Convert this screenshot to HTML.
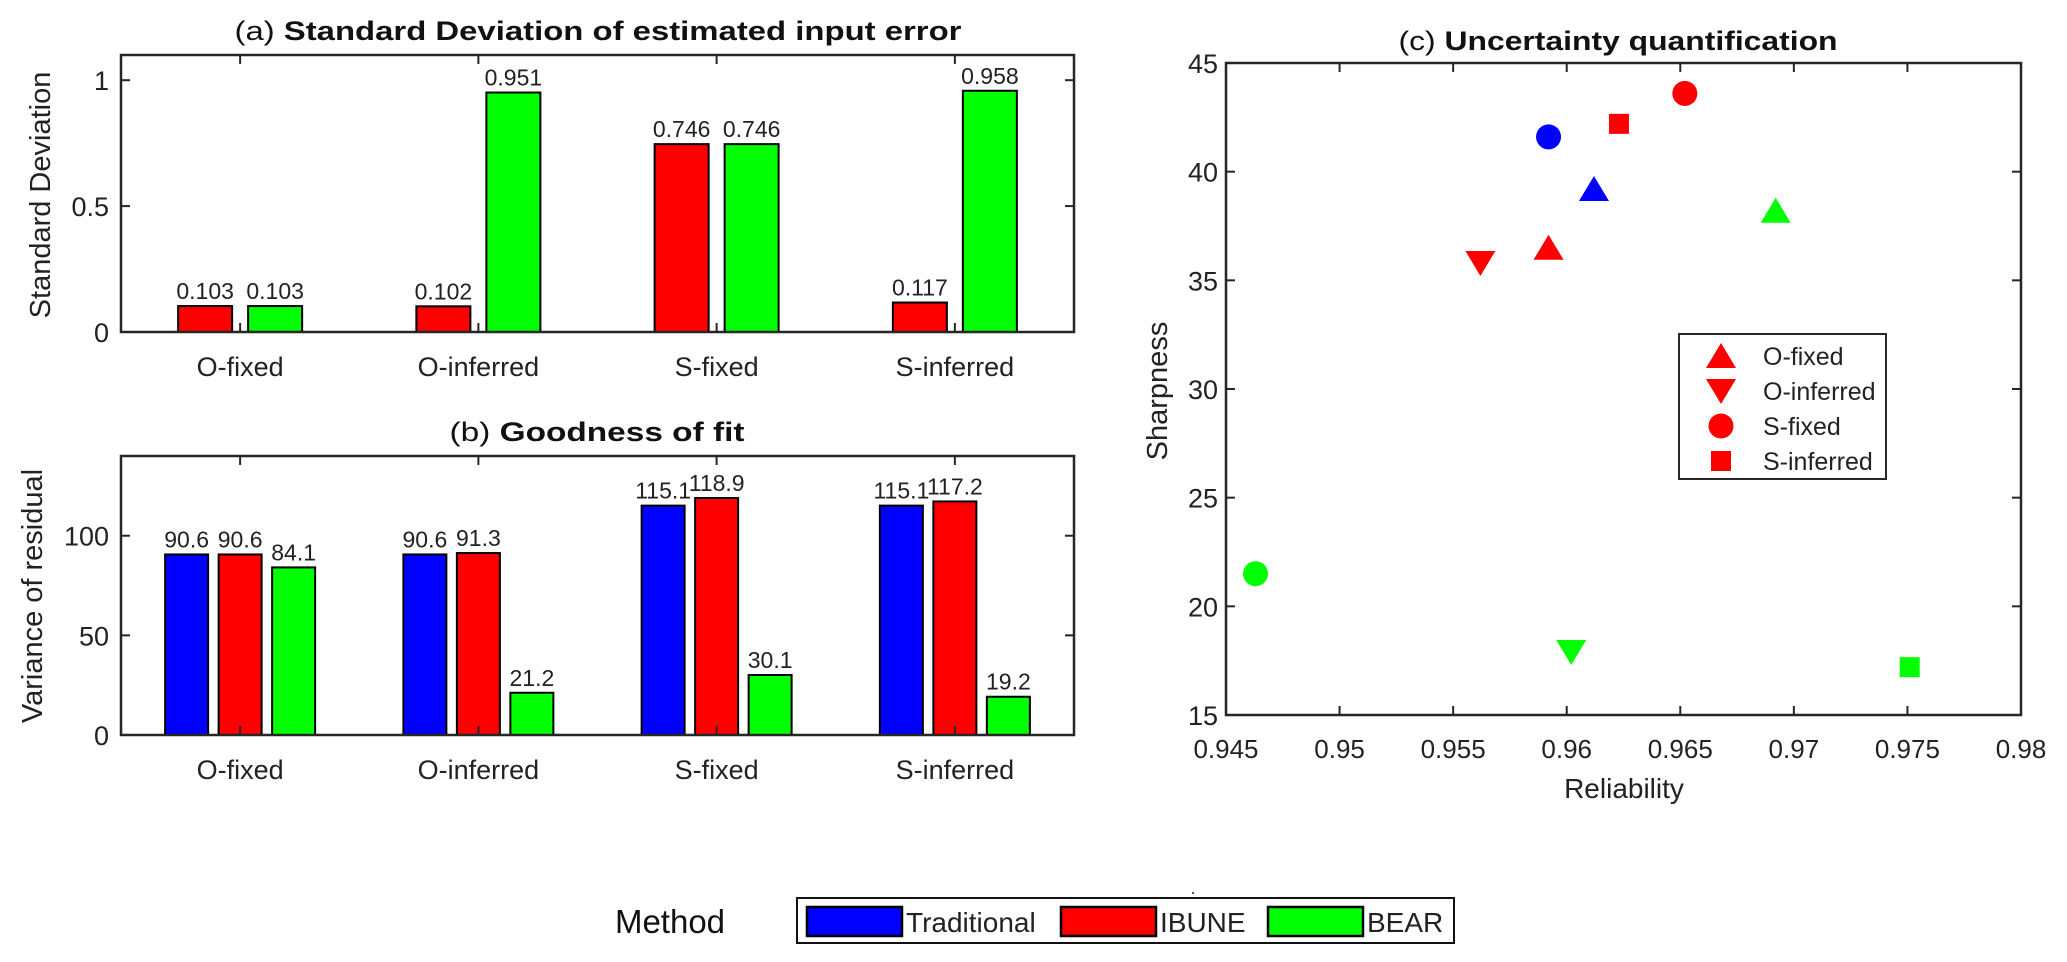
<!DOCTYPE html>
<html><head><meta charset="utf-8"><style>
html,body{margin:0;padding:0;background:#fff;}
svg{display:block;font-family:"Liberation Sans",Arial,sans-serif;}
</style></head><body>
<svg id="fig" width="2067" height="962" viewBox="0 0 2067 962"></svg>
<script>
const categories = ["O-fixed","O-inferred","S-fixed","S-inferred"];
const sdRed = [0.103,0.102,0.746,0.117];
const sdGreen = [0.103,0.951,0.746,0.958];
const sdTicks = [0,0.5,1];
const sdTickLabels = ["0","0.5","1"];
const fitBlue = [90.6,90.6,115.1,115.1];
const fitRed = [90.6,91.3,118.9,117.2];
const fitGreen = [84.1,21.2,30.1,19.2];
const fitTicks = [0,50,100];
const relTicks = [0.945,0.95,0.955,0.96,0.965,0.97,0.975,0.98];
const relTickLabels = ["0.945","0.95","0.955","0.96","0.965","0.97","0.975","0.98"];
const sharpTicks = [15,20,25,30,35,40,45];
const ptMethod = ["blue","red","red","red","red","green","green","green","green","blue"];
const ptShape = ["circle","up","down","circle","square","up","down","circle","square","up"];
const ptRel = [0.9592,0.9592,0.9562,0.9652,0.9623,0.9692,0.9602,0.9463,0.9751,0.9612];
const ptSharp = [41.6,36.5,35.8,43.6,42.2,38.2,17.9,21.5,17.2,39.2];

const NS="http://www.w3.org/2000/svg";
const svg=document.getElementById('fig');
const COL={blue:"#0000ff",red:"#ff0000",green:"#00ff00"};
const AX="#262626";
function mk(tag,attrs,parent){const e=document.createElementNS(NS,tag);for(const k in attrs)e.setAttribute(k,attrs[k]);(parent||svg).appendChild(e);return e;}
function txt(s,attrs,parent){const e=mk('text',attrs,parent);e.textContent=s;return e;}

function barPanel(name,box,ymax,ticks,tickLabels,series,colors,offsets,bw,labelFmt){
  const g=mk('g',{});
  
  
  const xs=c=>box.l+(c+0.5)*(box.r-box.l)/4;
  const ys=v=>box.b-v/ymax*(box.b-box.t);
  mk('rect',{x:box.l,y:box.t,width:box.r-box.l,height:box.b-box.t,fill:'#fff',stroke:'none'},g);
  series.forEach((vals,si)=>{
    vals.forEach((v,ci)=>{
      const cx=xs(ci)+offsets[si];
      const r=mk('rect',{x:cx-bw/2,y:ys(v),width:bw,height:ys(0)-ys(v),fill:colors[si],stroke:'#000','stroke-width':2},g);
      
      
      const t=txt(labelFmt(v),{x:cx,y:ys(v)-7,'text-anchor':'middle','font-size':23,fill:'#222'},g);
      
      
    });
  });
  mk('rect',{x:box.l,y:box.t,width:box.r-box.l,height:box.b-box.t,fill:'none',stroke:AX,'stroke-width':2.5},g);
  categories.forEach((c,ci)=>{
    const x=xs(ci);
    mk('line',{x1:x,y1:box.b,x2:x,y2:box.b-9,stroke:AX,'stroke-width':2},g);
    mk('line',{x1:x,y1:box.t,x2:x,y2:box.t+9,stroke:AX,'stroke-width':2},g);
    const t=txt(c,{x:x,y:box.b+44,'text-anchor':'middle','font-size':27,fill:'#222'},g);
    
    
  });
  ticks.forEach((v,i)=>{
    const y=ys(v);
    mk('line',{x1:box.l,y1:y,x2:box.l+9,y2:y,stroke:AX,'stroke-width':2},g);
    mk('line',{x1:box.r,y1:y,x2:box.r-9,y2:y,stroke:AX,'stroke-width':2},g);
    const t=txt(tickLabels[i],{x:box.l-12,y:y+10,'text-anchor':'end','font-size':27,fill:'#222'},g);
    
    
  });
  return g;
}

barPanel('panel-a-std-dev',{l:121,r:1074,t:55,b:332},1.1,sdTicks,sdTickLabels,[sdRed,sdGreen],[COL.red,COL.green],[-35,35],54,v=>v.toFixed(3));
barPanel('panel-b-goodness-of-fit',{l:121,r:1074,t:456,b:735},140,fitTicks,fitTicks.map(String),[fitBlue,fitRed,fitGreen],[COL.blue,COL.red,COL.green],[-53.5,0,53.5],43,v=>v.toFixed(1));

function title(s1,s2,cx,y,len,name){
  const t=mk('text',{x:cx,y:y,'text-anchor':'middle','font-size':27,'font-weight':'bold',fill:'#111',textLength:len,lengthAdjust:'spacingAndGlyphs'});
  
  
  const a=mk('tspan',{'font-weight':'normal'},t);a.textContent=s1;
  const b=mk('tspan',{},t);b.textContent=s2;
}
title('(a) ','Standard Deviation of estimated input error',598,40,727,'panel-a-title');
title('(b) ','Goodness of fit',597,441,295,'panel-b-title');
title('(c) ','Uncertainty quantification',1618,50,439,'panel-c-title');

function ylab(s,x,y,name){
  const t=txt(s,{x:x,y:y,'text-anchor':'middle','font-size':29,fill:'#222',transform:`rotate(-90 ${x} ${y})`});
  
  
}
ylab('Standard Deviation',50,195,'panel-a-y-axis-title');
ylab('Variance of residual',42,596,'panel-b-y-axis-title');
ylab('Sharpness',1167,391,'panel-c-y-axis-title');

// Panel c
const C={l:1226,r:2021,t:63,b:715};
const xr=v=>C.l+(v-0.945)/0.035*(C.r-C.l);
const ysh=v=>C.b-(v-15)/30*(C.b-C.t);
const gc=mk('g',{});


function marker(shape,x,y,fill,parent){
  let e;
  if(shape==='circle') e=mk('ellipse',{cx:x,cy:y,rx:12.5,ry:12.5,fill:fill},parent);
  else if(shape==='square') e=mk('rect',{x:x-10,y:y-10,width:20,height:20,fill:fill},parent);
  else if(shape==='up') e=mk('polygon',{points:`${x},${y-13} ${x+15},${y+12} ${x-15},${y+12}`,fill:fill},parent);
  else e=mk('polygon',{points:`${x},${y+13} ${x+15},${y-12} ${x-15},${y-12}`,fill:fill},parent);
  return e;
}
ptRel.forEach((r,i)=>{
  const m=marker(ptShape[i],xr(r),ysh(ptSharp[i]),COL[ptMethod[i]],gc);
  
  
});
mk('rect',{x:C.l,y:C.t,width:C.r-C.l,height:C.b-C.t,fill:'none',stroke:AX,'stroke-width':2.5},gc);
relTicks.forEach((v,i)=>{
  const x=xr(v);
  mk('line',{x1:x,y1:C.b,x2:x,y2:C.b-9,stroke:AX,'stroke-width':2},gc);
  mk('line',{x1:x,y1:C.t,x2:x,y2:C.t+9,stroke:AX,'stroke-width':2},gc);
  const t=txt(relTickLabels[i],{x:x,y:C.b+43,'text-anchor':'middle','font-size':26,fill:'#222'},gc);
  
  
});
sharpTicks.forEach(v=>{
  const y=ysh(v);
  mk('line',{x1:C.l,y1:y,x2:C.l+9,y2:y,stroke:AX,'stroke-width':2},gc);
  mk('line',{x1:C.r,y1:y,x2:C.r-9,y2:y,stroke:AX,'stroke-width':2},gc);
  const t=txt(String(v),{x:C.l-8,y:y+10,'text-anchor':'end','font-size':27,fill:'#222'},gc);
  
  
});
const xt=txt('Reliability',{x:1624,y:798,'text-anchor':'middle','font-size':28,fill:'#222'});



// shape legend
const lg=mk('g',{});


mk('rect',{x:1679,y:334,width:207,height:145,fill:'#fff',stroke:AX,'stroke-width':2},lg);
const legShapes=["up","down","circle","square"];
const legY=[356,391,426,461];
legShapes.forEach((s,i)=>{
  marker(s,1721,legY[i],COL.red,lg);
  const t=txt(categories[i],{x:1763,y:legY[i]+9,'font-size':25,fill:'#222'},lg);
  
  
});

// method legend
const mt=txt('Method',{x:670,y:933,'text-anchor':'middle','font-size':33,fill:'#111'});


const ml=mk('g',{});


mk('rect',{x:797,y:898,width:657,height:45,fill:'#fff',stroke:'#111','stroke-width':2},ml);
const methods=["Traditional","IBUNE","BEAR"];
const mcol=[COL.blue,COL.red,COL.green];
const mpx=[807,1061,1268];
methods.forEach((m,i)=>{
  mk('rect',{x:mpx[i],y:907,width:95,height:29,fill:mcol[i],stroke:'#000','stroke-width':2.5},ml);
  const t=txt(m,{x:mpx[i]+99,y:932,'font-size':28,fill:'#222'},ml);
  
  
});
mk('rect',{x:1192,y:892,width:2,height:2,fill:'#555'});
</script>
</body></html>
